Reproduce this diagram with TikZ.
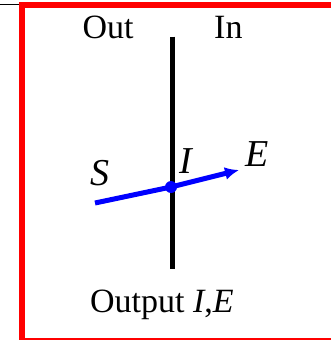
\documentclass[tikz,border=0pt]{standalone}
\usepackage{fontspec}
\setmainfont{Liberation Serif}
\usetikzlibrary{arrows.meta}
\begin{document}
\begin{tikzpicture}[x=1pt,y=1pt,
  lbl/.style={inner sep=0pt,anchor=base west,font=\fontsize{34}{40}\selectfont},
  var/.style={inner sep=0pt,anchor=base west,font=\fontsize{38}{44}\selectfont\itshape},
  frame/.style={draw=red,line width=6pt},
  wall/.style={draw=black,line width=5pt},
  ray/.style={draw=blue,line width=5pt},
]
\useasboundingbox (0,0) rectangle (331,-340);
\clip (0,0) rectangle (331,-340);
\draw[frame] (22,-4.5) rectangle (336,-341);
\coordinate (l0) at (0,-4.5);
\coordinate (l1) at (19,-4.5);
\draw[line width=1pt] (l0) -- (l1);
\coordinate (wt) at (172.7,-36.7);
\coordinate (wb) at (172.7,-269.3);
\draw[wall] (wt) -- (wb);
\node[lbl] (out) at (82.5,-38) {Out};
\node[lbl] (in) at (214,-38) {In};
\node[lbl] (outp) at (90,-312.5) {Output \textit{I},\textit{E}};
\node[var] (S) at (90.5,-185) {S};
\node[var] (I) at (179,-173.3) {I};
\node[var] (E) at (245,-166) {E};
\coordinate (s0) at (95,-203);
\node[circle,fill=blue,inner sep=0pt,minimum size=12pt] (d) at (171,-187) {};
\coordinate (e0) at (239,-170);
\draw[ray] (s0) -- (d.center);
\draw[ray,-{Latex[length=14pt,width=13pt]}] (d.center) -- (e0);
\end{tikzpicture}
\end{document}
